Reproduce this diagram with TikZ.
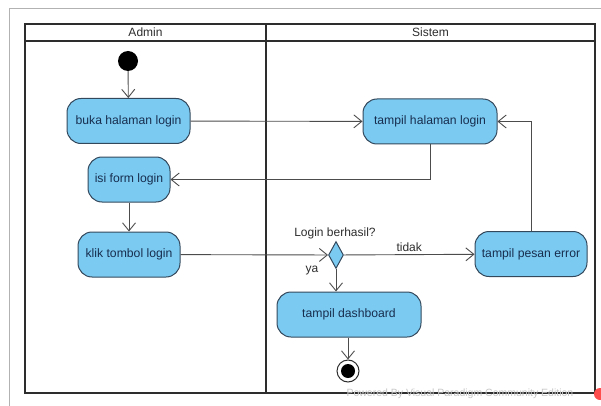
\documentclass[tikz,border=0pt]{standalone}
\usepackage{fontspec}
\setmainfont{Liberation Sans}
\usetikzlibrary{positioning,shapes.geometric,arrows.meta}

\definecolor{actfill}{RGB}{122,202,242}
\definecolor{actline}{RGB}{52,72,92}
\definecolor{acttext}{RGB}{24,46,78}
\definecolor{laneline}{RGB}{45,45,45}

\tikzset{
    action/.style={draw=actline, fill=actfill, rounded corners=14pt, line width=1pt,
        minimum height=45pt, inner sep=0pt, text=acttext,
        font=\fontsize{12.2}{14}\selectfont},
    flow/.style={draw=laneline!85, line width=0.9pt, -{Straight Barb[length=8pt,width=13pt]}},
    lbl/.style={text=laneline, font=\fontsize{12}{14}\selectfont}
}

\begin{document}
\begin{tikzpicture}[x=1pt, y=-1pt]
    \useasboundingbox (0,0) rectangle (601,406);

    % Frame
    \draw[gray!60, line width=0.8pt] (9,406) -- (9,8) -- (601,8);

    % Swimlanes
    \draw[laneline, line width=1.8pt] (25,24) rectangle (595,393);
    \draw[laneline, line width=2.2pt] (25,41) -- (595,41);
    \draw[laneline, line width=1.8pt] (266,24) -- (266,393);
    \node[lbl] (admin) at (145.5,32.5) {Admin};
    \node[lbl] (sistem) at (430.5,32.5) {Sistem};

    % Start and end
    \node[circle, fill=black, minimum size=20pt, inner sep=0pt] (start) at (128,61) {};
    \node[circle, draw=laneline, line width=1pt, minimum size=22pt, inner sep=0pt] (end) at (348,371) {};
    \fill[black] (end.center) circle (7pt);

    % Actions
    \node[action, minimum width=123pt] (buka) at (128.5,121) {buka halaman login};
    \node[action, minimum width=82pt] (isi) at (129,179.5) {isi form login};
    \node[action, minimum width=102pt] (klik) at (129,254.5) {klik tombol login};
    \node[action, minimum width=134pt] (tlogin) at (430,121.5) {tampil halaman login};
    \node[action, minimum width=112pt] (perr) at (531,254) {tampil pesan error};
    \node[action, minimum width=144pt] (dash) at (349,314.5) {tampil dashboard};

    % Decision
    \node[diamond, draw=actline, fill=actfill, line width=1pt, aspect=0.55,
        minimum width=15pt, minimum height=27pt, inner sep=0pt] (cek) at (336,255) {};
    \node[lbl] (tanya) at (335,233) {Login berhasil?};

    % Flows
    \draw[flow] (start) -- (buka);
    \draw[flow] (buka) -- (tlogin);
    \draw[flow] (tlogin.south) |- (isi.east);
    \draw[flow] (isi) -- (klik);
    \draw[flow] (klik) -- (cek);
    \draw[flow] (cek) -- node[lbl, above=-1pt, pos=0.5] (tidak) {tidak} (perr);
    \draw[flow] (cek.south) -- (cek.south |- dash.north);
    \node[lbl] (ya) at (312,271) {ya};
    \draw[flow] (perr.north) |- (tlogin.east);
    \draw[flow] (dash.south -| end) -- (end);

    % Watermark
    \node[gray!45, font=\fontsize{10.5}{12}\selectfont, anchor=west] (vp) at (343,394) {Powered By Visual Paradigm Community Edition};
    \fill[red!70] (600,394) circle (6pt);
\end{tikzpicture}
\end{document}
